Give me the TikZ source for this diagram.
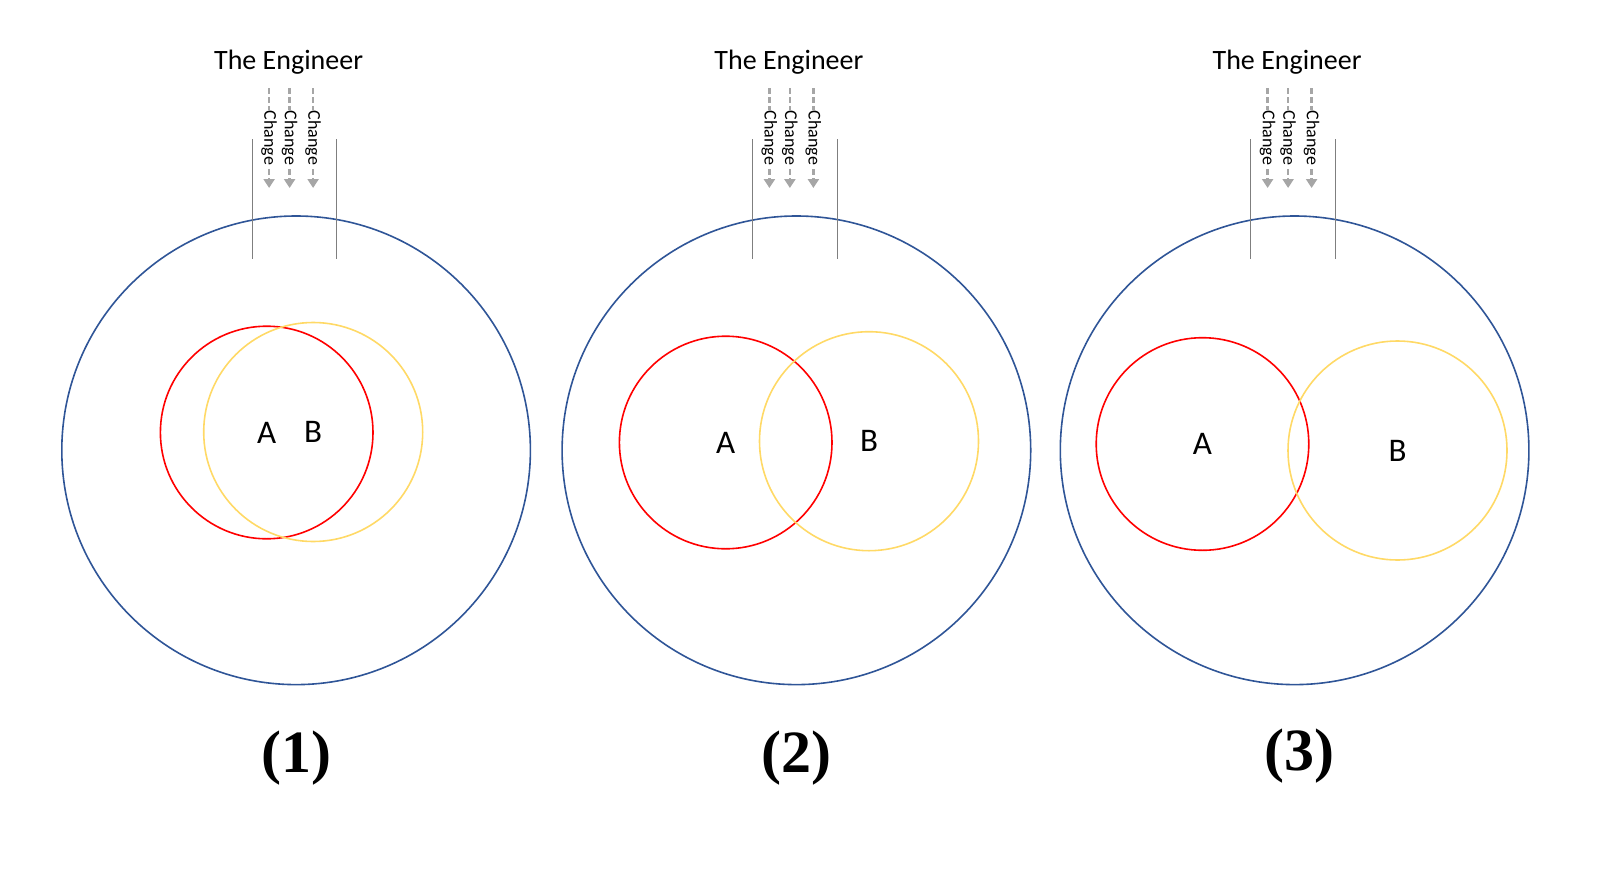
\documentclass[tikz,border=0pt]{standalone}
\usepackage{fontspec}
\setmainfont{Carlito}
\newfontfamily\numfont{Liberation Serif}
\usepackage{tikz}
\usetikzlibrary{arrows.meta}
\definecolor{uniblue}{HTML}{2F5597}
\definecolor{setred}{HTML}{FF0000}
\definecolor{setgold}{HTML}{FFD966}
\definecolor{changegray}{HTML}{A6A6A6}
\definecolor{wallgray}{HTML}{7F7F7F}

\begin{document}
\begin{tikzpicture}[x=1pt, y=-1pt,
  universe/.style={circle,draw=uniblue,line width=1.6pt,inner sep=0pt,minimum size=468.6pt},
  set a/.style={circle,draw=setred,line width=1.6pt,inner sep=0pt,minimum size=212.6pt,font=\fontsize{33}{36}\selectfont},
  set b/.style={circle,draw=setgold,line width=1.6pt,inner sep=0pt,minimum size=219pt,font=\fontsize{33}{36}\selectfont},
  engineer/.style={anchor=base,font=\fontsize{28}{32}\selectfont},
  change/.style={draw=changegray,line width=2.4pt,dash pattern=on 6pt off 3pt,-{Triangle[width=11pt,length=9pt]}},
  change label/.style={rotate=-90,fill=white,inner sep=0.3pt,text=black,font=\fontsize{18}{20}\selectfont},
  boundary/.style={draw=wallgray,line width=1.1pt},
  panel label/.style={font=\numfont\bfseries\fontsize{60}{64}\selectfont}]

\useasboundingbox (0,0) rectangle (1600,891);

\foreach \cx/\ax/\ay/\bx/\by/\n/\lx/\ly in {
  296.1/266.7/432.5/313.2/432/1/296.7/758,
  796.4/725.7/442.5/869/441.2/2/796.4/758,
  1294.6/1202.5/444/1397.5/450.5/3/1299.7/756}{
  \node[universe] (U\n) at (\cx,450.3) {};
  \node[set a] (A\n) at (\ax,\ay) {A};
  \node[set b] (B\n) at (\bx,\by) {B};
  \node[engineer] (E\n) at (\cx-7.5,69.3) {The Engineer};
  \node[panel label] (L\n) at (\lx,\ly) {(\n)};

  \coordinate (wlt\n) at (\cx-43.8,139.3);
  \coordinate (wlb\n) at (\cx-43.8,259.3);
  \coordinate (wrt\n) at (\cx+40.8,139.3);
  \coordinate (wrb\n) at (\cx+40.8,259.3);
  \draw[boundary] (wlt\n) -- (wlb\n);
  \draw[boundary] (wrt\n) -- (wrb\n);

  \foreach \dx [count=\k] in {-27,-6.5,17}{
    \coordinate (ct\n\k) at (\cx+\dx,88);
    \coordinate (ch\n\k) at (\cx+\dx,188);
    \draw[change] (ct\n\k) -- node[change label] {Change} (ch\n\k);
  }
}

\end{tikzpicture}
\end{document}
